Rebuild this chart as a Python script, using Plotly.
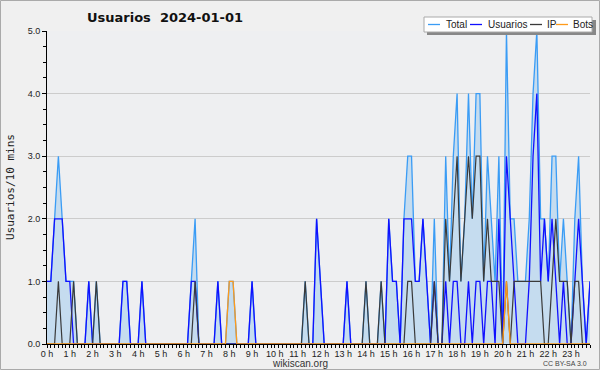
import plotly.graph_objects as go

# 10-minute slots, 0 .. 143
slots = list(range(144))
hour_ticks = list(range(0, 144, 6))
hour_labels = [f"{h} h" for h in range(24)]

total = [1, 1, 2, 3, 2, 1, 1, 1, 0, 0, 0, 1, 0, 1, 0, 0, 0, 0, 0, 0,
         1, 1, 0, 0, 0, 1, 0, 0, 0, 0, 0, 0, 0, 0, 0, 0, 0, 0, 1, 2,
         0, 0, 0, 0, 0, 1, 0, 0, 1, 1, 0, 0, 0, 0, 1, 0, 0, 0, 0, 0,
         0, 0, 0, 0, 0, 0, 0, 0, 1, 0, 0, 2, 1, 0, 0, 0, 0, 0, 0, 1,
         0, 0, 0, 0, 1, 0, 0, 0, 1, 0, 2, 1, 1, 0, 2, 3, 3, 1, 1, 2,
         1, 0, 2, 0, 0, 3, 1, 3, 4, 1, 2, 4, 2, 4, 4, 1, 3, 2, 1, 3,
         0, 5, 2, 2, 1, 1, 1, 2, 4, 5, 2, 2, 1, 3, 3, 1, 2, 1, 0, 2,
         3, 1, 0, 1]

usuarios = [1, 1, 2, 2, 2, 1, 1, 0, 0, 0, 0, 1, 0, 0, 0, 0, 0, 0, 0, 0,
            1, 1, 0, 0, 0, 1, 0, 0, 0, 0, 0, 0, 0, 0, 0, 0, 0, 0, 1, 1,
            0, 0, 0, 0, 0, 1, 0, 0, 0, 0, 0, 0, 0, 0, 1, 0, 0, 0, 0, 0,
            0, 0, 0, 0, 0, 0, 0, 0, 0, 0, 0, 2, 1, 0, 0, 0, 0, 0, 0, 1,
            0, 0, 0, 0, 0, 0, 0, 0, 0, 0, 2, 1, 1, 0, 2, 2, 2, 1, 1, 2,
            1, 0, 1, 0, 0, 1, 0, 1, 1, 0, 0, 1, 0, 1, 1, 0, 1, 1, 0, 2,
            0, 3, 2, 1, 0, 0, 0, 1, 3, 4, 1, 2, 1, 2, 1, 0, 1, 0, 0, 1,
            2, 1, 0, 1]

ip = [0, 0, 0, 1, 0, 0, 0, 1, 0, 0, 0, 0, 0, 1, 0, 0, 0, 0, 0, 0,
      0, 0, 0, 0, 0, 0, 0, 0, 0, 0, 0, 0, 0, 0, 0, 0, 0, 0, 0, 1,
      0, 0, 0, 0, 0, 0, 0, 0, 0, 0, 0, 0, 0, 0, 0, 0, 0, 0, 0, 0,
      0, 0, 0, 0, 0, 0, 0, 0, 1, 0, 0, 0, 0, 0, 0, 0, 0, 0, 0, 0,
      0, 0, 0, 0, 1, 0, 0, 0, 1, 0, 0, 0, 0, 0, 0, 1, 1, 0, 0, 0,
      0, 0, 1, 0, 0, 2, 1, 2, 3, 1, 2, 3, 2, 3, 3, 1, 2, 1, 1, 1,
      0, 1, 0, 1, 1, 1, 1, 1, 1, 1, 1, 0, 0, 1, 2, 1, 1, 1, 0, 1,
      1, 0, 0, 0]

bots = [0] * 48 + [1, 1] + [0] * 71 + [1] + [0] * 22

W, H = 600, 370
L, R, T, B = 47, 10, 31, 26
PW, PH = W - L - R, H - T - B


def px(x):
    return (x - L) / PW


def py(y):
    return (H - B - y) / PH


fig = go.Figure()
fig.add_trace(go.Scatter(x=slots, y=total, mode="lines", name="Total",
                         line=dict(color="#3a9cf5", width=1.3),
                         fill="tozeroy", fillcolor="rgb(197,220,239)"))
fig.add_trace(go.Scatter(x=slots, y=usuarios, mode="lines", name="Usuarios",
                         line=dict(color="#1010ff", width=1.3)))
fig.add_trace(go.Scatter(x=slots, y=ip, mode="lines", name="IP",
                         line=dict(color="#3a3a3a", width=1.2)))
fig.add_trace(go.Scatter(x=slots, y=bots, mode="lines", name="Bots",
                         line=dict(color="#ff9a1a", width=1.3)))

font_ticks = dict(family="Liberation Sans", size=9, color="#222")

fig.update_layout(
    width=W, height=H,
    margin=dict(l=L, r=R, t=T, b=B, pad=0),
    paper_bgcolor="#f0f0f0",
    plot_bgcolor="#eeeff1",
    showlegend=False,
    xaxis=dict(range=[0, 143], tickmode="array", tickvals=hour_ticks,
               ticktext=hour_labels, ticks="outside", ticklen=3,
               tickcolor="#000", tickwidth=1, showline=True,
               linecolor="#000", linewidth=1, showgrid=False,
               zeroline=False, tickfont=font_ticks,
               ticklabelstandoff=-2,
               minor=dict(dtick=1, ticks="outside", ticklen=3,
                          tickcolor="#000", showgrid=False)),
    yaxis=dict(range=[0, 5], dtick=1, tickformat=".1f", ticks="outside",
               ticklen=4, tickcolor="#000", showline=True,
               linecolor="#000", linewidth=1, gridcolor="#cccccc",
               gridwidth=1, zeroline=False, tickfont=font_ticks,
               minor=dict(dtick=0.25, ticks="outside", ticklen=3,
                          tickcolor="#000", showgrid=False)),
)

shapes = []
# outer border
shapes.append(dict(type="rect", xref="paper", yref="paper",
                   x0=px(0.5), x1=px(599.5), y0=py(0.5), y1=py(369.5),
                   line=dict(color="#aaaaaa", width=1)))
# legend shadow + box
shapes.append(dict(type="rect", xref="paper", yref="paper",
                   x0=px(427), x1=px(596), y0=py(20), y1=py(35),
                   fillcolor="#888888", line=dict(width=0)))
shapes.append(dict(type="rect", xref="paper", yref="paper",
                   x0=px(424), x1=px(592), y0=py(17), y1=py(32),
                   fillcolor="#ffffff", line=dict(color="#aaaaaa", width=1)))

legend_items = [("Total", "#3a9cf5", 428, 444),
                ("Usuarios", "#1010ff", 470, 486),
                ("IP", "#3a3a3a", 530, 545),
                ("Bots", "#ff9a1a", 556, 571)]
annotations = []
for name, col, lx, tx in legend_items:
    shapes.append(dict(type="line", xref="paper", yref="paper",
                       x0=px(lx), x1=px(lx + 12), y0=py(24.5), y1=py(24.5),
                       line=dict(color=col, width=1.3)))
    annotations.append(dict(text=name, xref="paper", yref="paper",
                            x=px(tx), y=py(24.5), xanchor="left",
                            yanchor="middle", showarrow=False,
                            font=dict(family="Liberation Sans", size=10,
                                      color="#222")))

annotations.append(dict(text="<b>Usuarios\u00a0\u00a02024-01-01</b>",
                        xref="paper", yref="paper", x=px(85), y=py(17),
                        xanchor="left", yanchor="middle", showarrow=False,
                        font=dict(family="DejaVu Sans", size=13,
                                  color="#111")))
annotations.append(dict(text="Usuarios/10 mins", xref="paper", yref="paper",
                        x=px(10), y=py(187), xanchor="center",
                        yanchor="middle", textangle=-90, showarrow=False,
                        font=dict(family="DejaVu Sans Mono", size=11,
                                  color="#222")))
annotations.append(dict(text="wikiscan.org", xref="paper", yref="paper",
                        x=px(300), y=py(363), xanchor="center",
                        yanchor="middle", showarrow=False,
                        font=dict(family="Liberation Sans", size=10,
                                  color="#333")))
annotations.append(dict(text="CC BY-SA 3.0", xref="paper", yref="paper",
                        x=px(589), y=py(363.5), xanchor="right",
                        yanchor="middle", showarrow=False,
                        font=dict(family="Liberation Sans", size=7,
                                  color="#444")))

fig.update_layout(shapes=shapes, annotations=annotations)
fig.write_html(
    "out.html",
    config={"displayModeBar": False},
    post_script="document.body.style.margin='0';"
                "document.body.style.padding='0';"
                "document.body.style.overflow='hidden';",
)
